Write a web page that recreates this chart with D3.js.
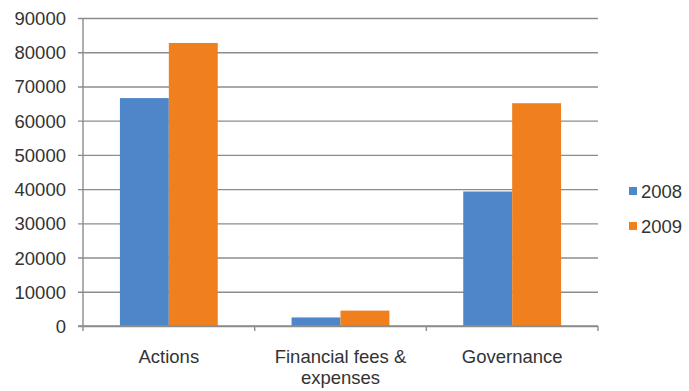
<!DOCTYPE html>
<html>
<head>
<meta charset="utf-8">
<script src="https://cdn.jsdelivr.net/npm/d3@7"></script>
<style>
  body { margin: 0; background: #fff; }
  text { font-family: "Liberation Sans", Arial, sans-serif; fill: #333; }
</style>
</head>
<body>
<div id="chart"></div>
<script>
// chart data
let categories = [["Actions"], ["Financial fees &", "expenses"], ["Governance"]];
let series = ["2008", "2009"];
let values2008 = [66600, 2500, 39300];
let values2009 = [82700, 4500, 65100];
let yTicks = [0, 10000, 20000, 30000, 40000, 50000, 60000, 70000, 80000, 90000];
let colors = ["#4E86C9", "#F0801E"];

let width = 689, height = 391;
let margin = { top: 18, right: 91, bottom: 65, left: 83 };

let svg = d3.select("#chart").append("svg")
  .attr("width", width).attr("height", height);

let catKeys = categories.map(c => c.join(" "));

let x = d3.scaleBand().domain(catKeys)
  .range([margin.left, width - margin.right])
  .paddingInner(0.43).paddingOuter(0.215);
let xSub = d3.scaleBand().domain(series).range([0, x.bandwidth()]);
let y = d3.scaleLinear().domain([0, 90000]).range([height - margin.bottom, margin.top]);

// gridlines + y axis
let yAxis = svg.append("g")
  .attr("transform", "translate(" + margin.left + ",0)")
  .call(d3.axisLeft(y).tickValues(yTicks).tickFormat(d3.format("d"))
    .tickSizeInner(-(width - margin.right - margin.left)).tickSizeOuter(0));
yAxis.select(".domain").remove();
yAxis.selectAll(".tick line").attr("stroke", "#8c8c8c").attr("stroke-width", 1.4).attr("x1", -5);
yAxis.selectAll(".tick text").style("font-size", "18.5px").attr("dy", "0.35em").attr("x", -17);

svg.append("line")
  .attr("x1", margin.left).attr("x2", margin.left)
  .attr("y1", y(90000)).attr("y2", y(0))
  .attr("stroke", "#8c8c8c").attr("stroke-width", 1.4);

// bars
let rows = catKeys.map((k, i) => ({ key: k, vals: [values2008[i], values2009[i]] }));
let groups = svg.selectAll("g.cat").data(rows).enter().append("g")
  .attr("class", "cat")
  .attr("transform", d => "translate(" + x(d.key) + ",0)");
groups.selectAll("rect").data(d => d.vals.map((v, j) => ({ s: series[j], v: v, j: j })))
  .enter().append("rect")
  .attr("x", d => xSub(d.s))
  .attr("width", xSub.bandwidth())
  .attr("y", d => y(d.v))
  .attr("height", d => y(0) - y(d.v))
  .attr("fill", d => colors[d.j]);

// x axis with ticks at category boundaries
let base = y(0);
svg.append("line")
  .attr("x1", margin.left - 5).attr("x2", width - margin.right)
  .attr("y1", base).attr("y2", base)
  .attr("stroke", "#8c8c8c").attr("stroke-width", 1.4);
let bounds = catKeys.map(k => x(k) - x.step() * 0.215).concat([width - margin.right]);
svg.selectAll("line.xtick").data(bounds).enter().append("line")
  .attr("class", "xtick")
  .attr("x1", d => d).attr("x2", d => d)
  .attr("y1", base).attr("y2", base + 5)
  .attr("stroke", "#8c8c8c").attr("stroke-width", 1.4);

let labels = svg.selectAll("text.xlab").data(categories).enter().append("text")
  .attr("class", "xlab")
  .attr("text-anchor", "middle")
  .attr("x", (d, i) => x(catKeys[i]) + x.bandwidth() / 2)
  .attr("y", base + 37)
  .style("font-size", "18.5px");
labels.selectAll("tspan").data(d => d).enter().append("tspan")
  .attr("x", function() { return d3.select(this.parentNode).attr("x"); })
  .attr("dy", (d, i) => i === 0 ? 0 : 21)
  .text(d => d);

// legend
let legend = svg.selectAll("g.leg").data(series).enter().append("g")
  .attr("class", "leg")
  .attr("transform", (d, i) => "translate(629," + (192 + i * 35) + ")");
legend.append("rect")
  .attr("x", 0).attr("y", -5).attr("width", 8).attr("height", 8)
  .attr("fill", (d, i) => colors[i]);
legend.append("text")
  .attr("x", 12).attr("y", 0).attr("dy", "0.35em")
  .style("font-size", "18.5px")
  .text(d => d);
</script>
</body>
</html>
